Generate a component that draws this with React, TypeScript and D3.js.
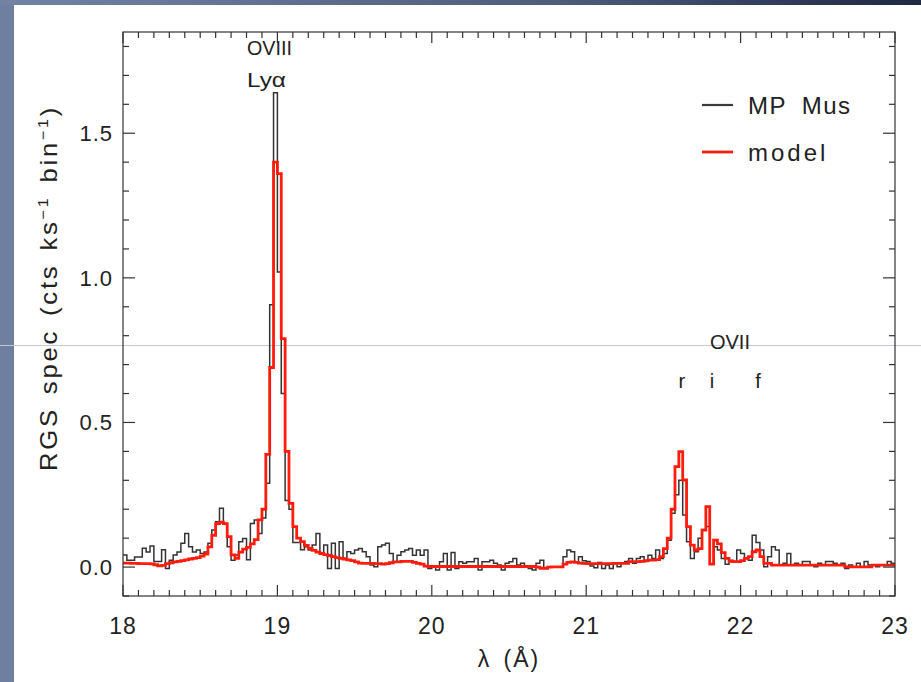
import React, { useEffect, useRef } from "react";
import * as d3 from "d3";

// RGS spectrum of MP Mus around the O VIII Lya and O VII triplet, 0.025 A bins from 18.0 A
const BIN_START = 18.0;
const BIN_WIDTH = 0.025;

const mpMus = [
  0.042, 0.024, 0.024, 0.035, 0.035, 0.065, 0.052, 0.073, 0.019, 0.019,
  0.06, -0.005, 0.024, 0.042, 0.052, 0.082, 0.116, 0.07, 0.052, 0.059,
  0.047, 0.052, 0.082, 0.128, 0.157, 0.203, 0.151, 0.07, 0.024, 0.042,
  0.088, 0.099, 0.025, 0.151, 0.163, 0.116, 0.17, 0.29, 0.907, 1.64,
  1.02, 0.6, 0.23, 0.2, 0.085, 0.085, 0.06, 0.07, 0.059, 0.076,
  0.116, 0.047, 0.076, -0.005, 0.082, -0.005, 0.088, 0.03, 0.053, 0.047,
  0.059, 0.064, 0.053, 0.036, 0.007, 0.001, 0.07, 0.076, 0.082, 0.047,
  0.018, 0.041, 0.053, 0.059, 0.064, 0.041, 0.059, 0.041, 0.059, -0.005,
  0.001, -0.01, 0.018, 0.047, -0.01, 0.05, -0.005, 0.018, 0.013, 0.018,
  0.018, 0.03, -0.01, 0.018, 0.018, 0.024, 0.013, 0.007, -0.01, 0.013,
  0.018, 0.03, 0.007, 0.013, 0.001, -0.005, -0.01, 0.013, 0.024, -0.005,
  0.001, 0.001, 0.001, 0.001, 0.036, 0.059, 0.053, 0.018, 0.036, 0.022,
  0.019, 0.004, -0.002, 0.016, -0.005, 0.007, -0.005, 0.013, 0.001, 0.013,
  0.019, 0.03, 0.013, 0.03, 0.036, 0.019, 0.041, 0.03, 0.059, 0.03,
  0.047, 0.093, 0.186, 0.25, 0.3, 0.18, 0.088, 0.03, 0.053, 0.1,
  0.13, 0.14, 0.01, 0.07, 0.059, 0.03, 0.01, 0.024, 0.019, 0.059,
  0.047, 0.03, 0.024, 0.11, 0.085, 0.059, 0.001, 0.036, 0.07, 0.059,
  0.007, 0.013, 0.047, 0.007, 0.013, 0.007, 0.019, 0.019, 0.007, 0.001,
  0.013, 0.007, 0.019, 0.019, 0.013, 0.007, 0.013, -0.005, 0.007, 0.001,
  0.013, 0.001, 0.019, 0.007, 0.007, 0.001, 0.007, 0.007, 0.019, 0.013,
];

const model = [
  0.014, 0.014, 0.013, 0.013, 0.012, 0.012, 0.012, 0.011, 0.008, 0.004,
  0.006, 0.012, 0.015, 0.018, 0.02, 0.022, 0.025, 0.028, 0.03, 0.033,
  0.038, 0.045, 0.07, 0.11, 0.15, 0.155, 0.15, 0.105, 0.042, 0.03,
  0.052, 0.062, 0.068, 0.08, 0.095, 0.163, 0.2, 0.39, 0.69, 1.4,
  1.36, 0.79, 0.4, 0.22, 0.14, 0.1, 0.088, 0.075, 0.065, 0.058,
  0.052, 0.047, 0.043, 0.04, 0.036, 0.033, 0.03, 0.028, 0.025, 0.022,
  0.018, 0.014, 0.013, 0.013, 0.013, 0.012, 0.012, 0.01, 0.012, 0.015,
  0.018, 0.018, 0.02, 0.02, 0.02, 0.016, 0.013, 0.01, 0.003, 0.002,
  0.002, 0.002, 0.002, 0.002, 0.002, 0.002, 0.002, 0.002, 0.002, 0.002,
  0.002, 0.002, 0.002, 0.002, 0.002, 0.002, 0.002, 0.002, 0.002, 0.002,
  0.002, 0.002, 0.002, 0.002, 0.002, 0.002, 0.002, 0.0, -0.004, -0.004,
  0.0, 0.001, 0.001, 0.001, 0.01, 0.016, 0.018, 0.016, 0.014, 0.013,
  0.012, 0.012, 0.012, 0.012, 0.012, 0.012, 0.012, 0.013, 0.013, 0.013,
  0.013, 0.019, 0.019, 0.019, 0.02, 0.022, 0.024, 0.024, 0.026, 0.036,
  0.064, 0.1, 0.2, 0.347, 0.399, 0.301, 0.14, 0.076, 0.059, 0.064,
  0.128, 0.209, 0.01, 0.093, 0.08, 0.05, 0.03, 0.02, 0.019, 0.019,
  0.022, 0.03, 0.036, 0.053, 0.059, 0.036, 0.013, 0.013, 0.007, 0.007,
  0.007, 0.007, 0.007, 0.007, 0.007, 0.007, 0.007, 0.007, 0.007, 0.007,
  0.007, 0.007, 0.007, 0.007, 0.007, 0.007, 0.007, 0.001, 0.001, 0.001,
  0.001, 0.001, 0.001, 0.001, 0.007, 0.007, 0.007, 0.007, 0.007, 0.007,
];

const xTicks = [18, 19, 20, 21, 22, 23];
const yTicks = [0, 0.5, 1.0, 1.5];
const seriesNames = ["MP Mus", "model"];

const FONT = "'Liberation Sans', Arial, Helvetica, sans-serif";

function steps(vals: number[]): [number, number][] {
  const pts: [number, number][] = vals.map((v, i) => [BIN_START + i * BIN_WIDTH, v]);
  pts.push([BIN_START + vals.length * BIN_WIDTH, vals[vals.length - 1]]);
  return pts;
}

export default function App() {
  const ref = useRef<SVGSVGElement>(null);

  useEffect(() => {
    const width = 921,
      height = 682;
    const left = 123,
      right = 895,
      top = 32,
      bottom = 596;
    const svg = d3.select(ref.current);
    svg.selectAll("*").remove();

    // slide background
    const defs = svg.append("defs");
    const grad = defs
      .append("linearGradient")
      .attr("id", "topband")
      .attr("x1", "0%")
      .attr("x2", "100%");
    grad.append("stop").attr("offset", "0%").attr("stop-color", "#7383a3");
    grad.append("stop").attr("offset", "60%").attr("stop-color", "#4f5d7d");
    grad.append("stop").attr("offset", "100%").attr("stop-color", "#1d2842");
    defs
      .append("clipPath")
      .attr("id", "plotclip")
      .append("rect")
      .attr("x", left)
      .attr("y", top)
      .attr("width", right - left)
      .attr("height", bottom - top);

    svg.append("rect").attr("width", width).attr("height", height).attr("fill", "#6f7f9f");
    svg.append("rect").attr("width", width).attr("height", 5).attr("fill", "url(#topband)");
    svg.append("rect").attr("x", 14).attr("y", 5).attr("width", width - 14).attr("height", height - 5).attr("fill", "#fff");
    svg.append("line").attr("x1", 0).attr("x2", width).attr("y1", 345.5).attr("y2", 345.5).attr("stroke", "#c3c6d3").attr("stroke-width", 1);

    const x = d3.scaleLinear().domain([18, 23]).range([left, right]);
    const y = d3.scaleLinear().domain([-0.1, 1.85]).range([bottom, top]);

    const line = d3
      .line<[number, number]>()
      .x((d) => x(d[0]))
      .y((d) => y(d[1]))
      .curve(d3.curveStepAfter);

    const g = svg.append("g").attr("clip-path", "url(#plotclip)");
    g.append("path")
      .datum(steps(mpMus))
      .attr("fill", "none")
      .attr("stroke", "#333")
      .attr("stroke-width", 1.5)
      .attr("d", line);
    g.append("path")
      .datum(steps(model))
      .attr("fill", "none")
      .attr("stroke", "#ff1c0c")
      .attr("stroke-width", 2.8)
      .attr("d", line);

    // frame and inward ticks on all sides
    const ax = svg.append("g").attr("stroke", "#333").attr("stroke-width", 1.2);
    ax.append("rect")
      .attr("x", left)
      .attr("y", top)
      .attr("width", right - left)
      .attr("height", bottom - top)
      .attr("fill", "none");

    const xMinor = d3.range(180, 231).map((d) => d / 10);
    xMinor.forEach((v) => {
      const major = Math.abs(v - Math.round(v)) < 1e-6;
      const len = major ? 11 : 6;
      ax.append("line").attr("x1", x(v)).attr("x2", x(v)).attr("y1", bottom).attr("y2", bottom - len);
      ax.append("line").attr("x1", x(v)).attr("x2", x(v)).attr("y1", top).attr("y2", top + len);
    });
    const yMinor = d3.range(-1, 19).map((d) => d / 10);
    yMinor.forEach((v) => {
      const major = yTicks.some((t) => Math.abs(t - v) < 1e-6);
      const len = major ? 12 : 6;
      ax.append("line").attr("x1", left).attr("x2", left + len).attr("y1", y(v)).attr("y2", y(v));
      ax.append("line").attr("x1", right).attr("x2", right - len).attr("y1", y(v)).attr("y2", y(v));
    });

    const txt = svg.append("g").attr("font-family", FONT).attr("fill", "#222");

    xTicks.forEach((t) => {
      txt.append("text")
        .attr("x", x(t))
        .attr("y", 634)
        .attr("text-anchor", "middle")
        .attr("font-size", 23)
        .attr("letter-spacing", 1)
        .text(String(t));
    });
    yTicks.forEach((t) => {
      txt.append("text")
        .attr("x", left - 10)
        .attr("y", y(t) + 8)
        .attr("text-anchor", "end")
        .attr("font-size", 22)
        .attr("letter-spacing", 1)
        .text(t.toFixed(1));
    });

    txt.append("text")
      .attr("x", x(20.5))
      .attr("y", 667)
      .attr("text-anchor", "middle")
      .attr("font-size", 23)
      .attr("letter-spacing", 2)
      .attr("word-spacing", 4)
      .text("λ (Å)");

    const yt = txt.append("text")
      .attr("transform", `translate(57,288) rotate(-90)`)
      .attr("text-anchor", "middle")
      .attr("font-size", 24)
      .attr("letter-spacing", 2.6)
      .attr("word-spacing", 3)
      .attr("textLength", 366)
      .attr("lengthAdjust", "spacingAndGlyphs");
    yt.append("tspan").text("RGS spec (cts ks");
    yt.append("tspan").attr("dy", -9).attr("font-size", 15).text("−1");
    yt.append("tspan").attr("dy", 9).text(" bin");
    yt.append("tspan").attr("dy", -9).attr("font-size", 15).text("−1");
    yt.append("tspan").attr("dy", 9).text(")");

    // line identifications
    const ann = txt.append("g").attr("font-size", 20);
    ann.append("text").attr("x", x(18.803)).attr("y", y(1.772)).attr("textLength", 45).attr("lengthAdjust", "spacingAndGlyphs").text("OVIII");
    ann.append("text").attr("x", x(18.803)).attr("y", y(1.661)).attr("textLength", 39).attr("lengthAdjust", "spacingAndGlyphs").text("Lyα");
    ann.append("text").attr("x", x(21.931)).attr("y", y(0.754)).attr("text-anchor", "middle").attr("textLength", 40).attr("lengthAdjust", "spacingAndGlyphs").text("OVII");
    [["r", 21.62], ["i", 21.815], ["f", 22.113]].forEach(([s, l]) => {
      ann.append("text").attr("x", x(l as number)).attr("y", y(0.619)).attr("text-anchor", "middle").text(s as string);
    });

    // legend
    const legColors = ["#3a3a3a", "#ff1c0c"];
    const legWidths = [2.2, 2.8];
    const legSpacing = [1.5, 3];
    seriesNames.forEach((name, i) => {
      const ly = 105 + i * 47;
      svg.append("line")
        .attr("x1", 702)
        .attr("x2", 733)
        .attr("y1", ly)
        .attr("y2", ly)
        .attr("stroke", legColors[i])
        .attr("stroke-width", legWidths[i]);
      txt.append("text")
        .attr("x", 748)
        .attr("y", ly + 9)
        .attr("font-size", 24)
        .attr("letter-spacing", legSpacing[i])
        .attr("word-spacing", 7)
        .text(name);
    });
  }, []);

  return (
    <div style={{ position: "absolute", left: 0, top: 0 }}>
      <svg ref={ref} width={921} height={682} style={{ display: "block" }} />
    </div>
  );
}
